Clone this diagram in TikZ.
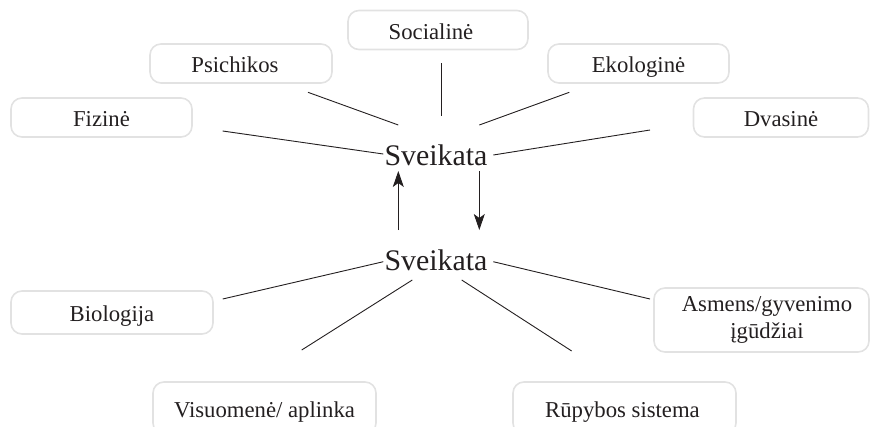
\documentclass[tikz,border=0pt]{standalone}
\usepackage{fontspec}
\setmainfont{Liberation Serif}
\usetikzlibrary{arrows.meta}
\definecolor{ink}{HTML}{231F20}
\definecolor{rim}{HTML}{E2E2E2}
\begin{document}
\begin{tikzpicture}[x=1bp,y=-1bp,
  boxbase/.style={draw=rim, line width=1.6bp, rounded corners=11bp, inner sep=0pt,
    text=ink, font=\fontsize{22.8}{27}\selectfont},
  lbl/.style={boxbase, text height=18bp, text depth=0bp},
  big/.style={text=ink, font=\fontsize{30}{36}\selectfont, inner sep=0pt, anchor=base},
  conn/.style={draw=ink, line width=0.9bp},
  arr/.style={conn, -{Stealth[length=16bp,width=11bp,inset=4bp]}}]
\useasboundingbox (0,0) rectangle (870,426);
% boxes
\node[lbl, minimum width=180bp, minimum height=39bp] (soc) at (438,30) {Socialinė\hspace*{14bp}};
\node[lbl, minimum width=182bp, minimum height=39bp] (psi) at (241,63.5) {Psichikos\hspace*{12bp}};
\node[lbl, minimum width=181bp, minimum height=39bp] (fiz) at (101.5,117.5) {Fizinė};
\node[lbl, minimum width=181bp, minimum height=39bp] (eko) at (638.5,63.5) {Ekologinė};
\node[lbl, minimum width=175bp, minimum height=39bp] (dva) at (781,117.5) {Dvasinė};
\node[lbl, minimum width=202bp, minimum height=43bp] (bio) at (112,312.5) {Biologija};
\node[lbl, minimum width=223bp, minimum height=52bp] (vis) at (264.5,408) {Visuomenė/ aplinka};
\node[lbl, minimum width=223bp, minimum height=52bp] (rup) at (624.5,408) {Rūpybos sistema\hspace*{4bp}};
\node[boxbase, align=center, minimum width=215bp, minimum height=64bp] (asm) at (761.5,320) {\hspace*{11bp}Asmens/gyvenimo\\\hspace*{11bp}įgūdžiai};
% centres
\node[big] (top) at (436,165) {Sveikata};
\node[big] (bot) at (436,270) {Sveikata};
% connector ends
\coordinate (fizA) at (222.7,131);   \coordinate (fizB) at (383.3,154);
\coordinate (psiA) at (308,92.3);    \coordinate (psiB) at (398.3,125);
\coordinate (socA) at (441.7,63.3);  \coordinate (socB) at (441.7,115.7);
\coordinate (ekoA) at (569.3,92.3);  \coordinate (ekoB) at (479.3,125);
\coordinate (dvaA) at (650,130);     \coordinate (dvaB) at (493.3,155);
\coordinate (bioA) at (222.7,299);   \coordinate (bioB) at (383.3,261.7);
\coordinate (visA) at (301.7,350);   \coordinate (visB) at (412.3,280);
\coordinate (asmA) at (650,299);     \coordinate (asmB) at (493.3,261.7);
\coordinate (rupA) at (571.7,351);   \coordinate (rupB) at (461.7,280);
\coordinate (dnA) at (479.3,171);    \coordinate (dnB) at (479.3,230);
\coordinate (upA) at (398.3,230);    \coordinate (upB) at (398.3,171);
% connectors
\draw[conn] (fizA) -- (fizB);
\draw[conn] (psiA) -- (psiB);
\draw[conn] (socA) -- (socB);
\draw[conn] (ekoA) -- (ekoB);
\draw[conn] (dvaA) -- (dvaB);
\draw[conn] (bioA) -- (bioB);
\draw[conn] (visA) -- (visB);
\draw[conn] (asmA) -- (asmB);
\draw[conn] (rupA) -- (rupB);
\draw[arr] (dnA) -- (dnB);
\draw[arr] (upA) -- (upB);
\end{tikzpicture}
\end{document}
